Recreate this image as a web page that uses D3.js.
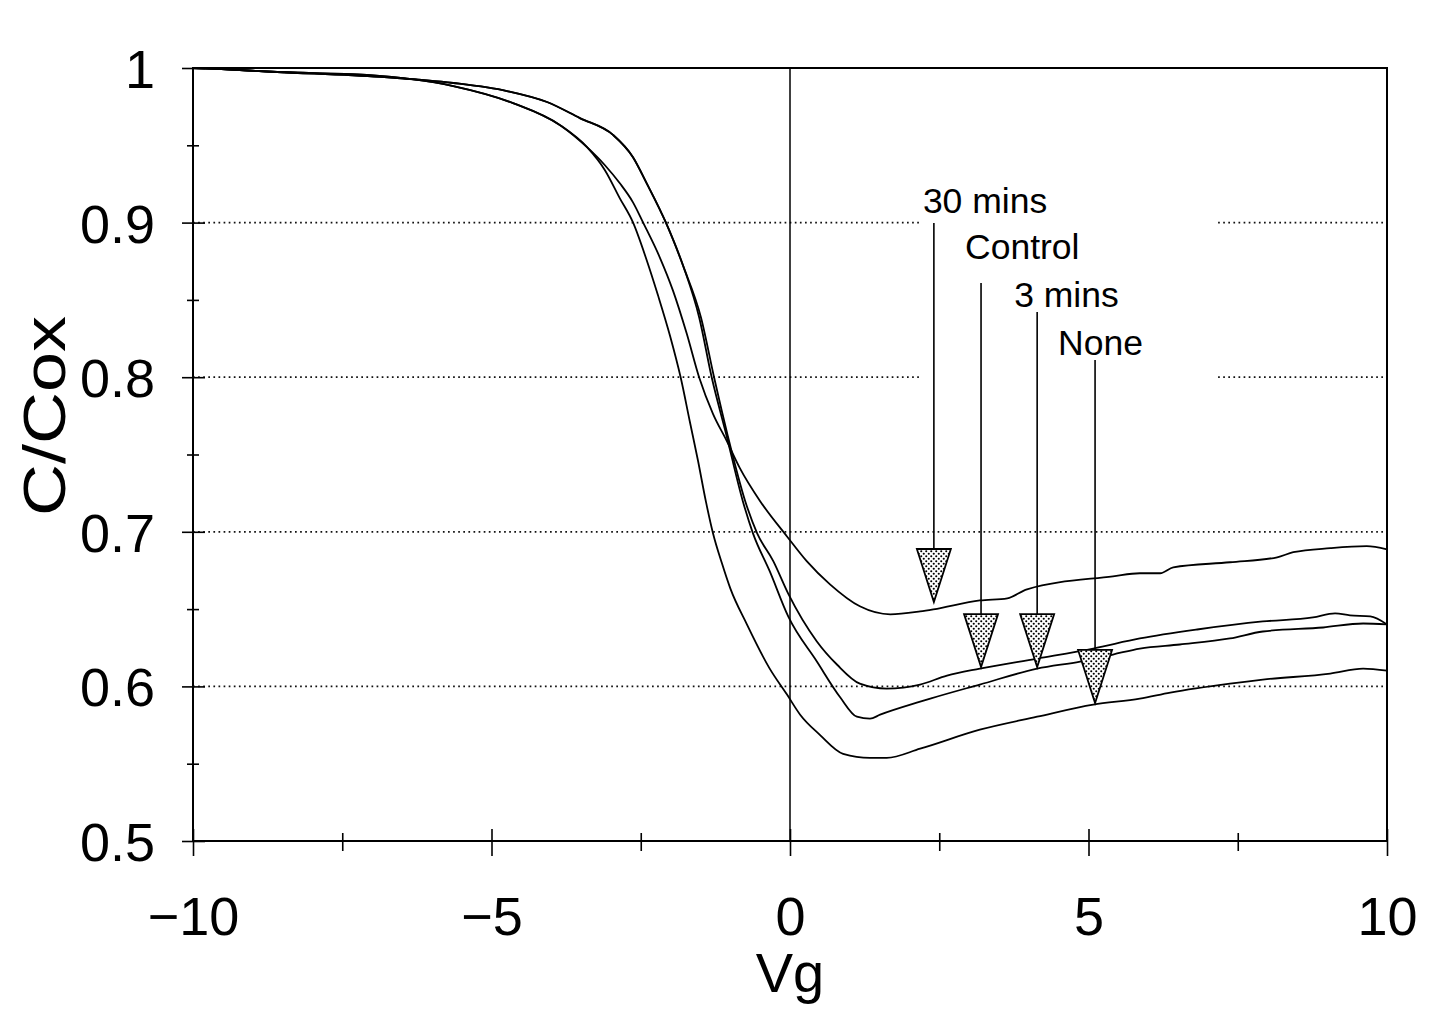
<!DOCTYPE html>
<html>
<head>
<meta charset="utf-8">
<script src="https://cdn.jsdelivr.net/npm/d3@7"></script>
<style>
  body { margin: 0; background: #fff; }
  svg { display: block; }
  text { font-family: "Liberation Sans", Arial, Helvetica, sans-serif; fill: #000; }
</style>
</head>
<body>
<svg id="chart" width="1431" height="1022"></svg>
<script>
// ---- C-V sweep data: gate voltage Vg (V) vs normalised capacitance C/Cox ----
const seriesNames = ["30 mins", "Control", "3 mins", "None"];

const cv30mins = [
  [-10,1.000],[-9.6,0.9994],[-8.59,0.9974],[-7.09,0.9955],[-5.64,0.9883],[-4.64,0.9773],
  [-3.85,0.9630],[-3.40,0.9488],[-3.10,0.9371],[-2.85,0.9254],[-2.63,0.9131],[-2.46,0.9000],
  [-2.18,0.8774],[-1.96,0.8560],[-1.73,0.8282],[-1.52,0.7996],[-1.29,0.7763],[-1.06,0.7588],
  [-0.84,0.7412],[-0.50,0.7198],[-0.05,0.6970],[0.28,0.6810],[0.67,0.6660],[1.17,0.6518],
  [1.68,0.6466],[2.18,0.6485],[2.40,0.6498],[3.18,0.6556],[3.64,0.6570],[3.97,0.6628],
  [5.41,0.6712],[5.86,0.6732],[6.20,0.6732],[6.42,0.6770],[7.37,0.6803],[8.16,0.6835],
  [8.43,0.6868],[9.05,0.6894],[9.66,0.6907],[10,0.6887]
];

const cvControl = [
  [-10,1.000],[-9.6,0.9994],[-8.59,0.9974],[-6.87,0.9942],[-5.64,0.9903],[-4.74,0.9851],
  [-4.07,0.9780],[-3.52,0.9676],[-2.96,0.9566],[-2.63,0.9423],[-2.40,0.9254],[-2.08,0.9001],
  [-1.78,0.8710],[-1.49,0.8385],[-1.27,0.7996],[-1.05,0.7633],[-0.75,0.7198],[-0.55,0.6990],
  [-0.28,0.6810],[-0.03,0.6600],[0.45,0.6291],[0.79,0.6140],[1.17,0.6018],[1.62,0.5986],
  [2.18,0.6012],[2.63,0.6070],[3.18,0.6115],[4.14,0.6180],[5.08,0.6245],[5.86,0.6310],
  [6.82,0.6368],[7.92,0.6420],[8.76,0.6446],[9.13,0.6472],[9.38,0.6460],[9.72,0.6453],
  [10,0.6401]
];

const cv3mins = [
  [-10,1.000],[-9.6,0.9994],[-8.59,0.9974],[-6.87,0.9942],[-5.64,0.9903],[-4.74,0.9851],
  [-4.07,0.9780],[-3.52,0.9676],[-2.96,0.9566],[-2.63,0.9423],[-2.40,0.9254],[-2.08,0.9001],
  [-1.78,0.8710],[-1.52,0.8385],[-1.31,0.7996],[-1.07,0.7633],[-0.79,0.7198],[-0.62,0.6990],
  [-0.34,0.6745],[-0.03,0.6453],[0.45,0.6161],[0.84,0.5930],[1.12,0.5804],[1.34,0.5791],
  [1.51,0.5817],[2.18,0.5901],[2.35,0.5921],[3.18,0.6012],[4.14,0.6115],[4.86,0.6161],
  [5.41,0.6206],[5.86,0.6245],[6.53,0.6271],[7.37,0.6310],[7.92,0.6355],[8.93,0.6381],
  [9.60,0.6407],[10,0.6401]
];

const cvNone = [
  [-10,1.000],[-9.6,0.9994],[-8.59,0.9974],[-7.09,0.9955],[-5.64,0.9883],[-4.64,0.9773],
  [-3.85,0.9630],[-3.40,0.9488],[-3.10,0.9339],[-2.85,0.9157],[-2.63,0.9001],[-2.41,0.8768],
  [-2.21,0.8528],[-2.01,0.8268],[-1.83,0.7996],[-1.68,0.7717],[-1.54,0.7458],[-1.41,0.7198],
  [-1.29,0.6991],[-1.14,0.6796],[-1.00,0.6634],[-0.72,0.6400],[-0.34,0.6115],[-0.05,0.5947],
  [0.17,0.5817],[0.50,0.5687],[0.89,0.5564],[1.34,0.5538],[1.62,0.5538],[2.18,0.5597],
  [3.18,0.5720],[4.14,0.5804],[5.08,0.5882],[5.86,0.5921],[6.37,0.5960],[7.37,0.6018],
  [7.92,0.6044],[9.05,0.6083],[9.60,0.6115],[10,0.6102]
];

const seriesData = [cv30mins, cvControl, cv3mins, cvNone];

// Axis ticks and labels
const xTickValues = [-10, -5, 0, 5, 10];
const xTickLabels = ["\u221210", "\u22125", "0", "5", "10"];
const xMinorTicks = [-7.5, -2.5, 2.5, 7.5];
const yTickValues = [0.5, 0.6, 0.7, 0.8, 0.9, 1.0];
const yTickLabels = ["0.5", "0.6", "0.7", "0.8", "0.9", "1"];
const yMinorTicks = [0.55, 0.65, 0.75, 0.85, 0.95];
const gridValues = [0.6, 0.7, 0.8, 0.9];

// Arrow annotations: the point (Vg, C/Cox) each arrow head touches
const annotLabels = ["30 mins", "Control", "3 mins", "None"];
const annotVg = [2.41, 3.20, 4.14, 5.11];
const annotC = [0.6546, 0.6125, 0.6125, 0.5893];

// ---- layout ----
const svg = d3.select("#chart");
const plot = { left: 193, right: 1387, top: 68, bottom: 841 };

const x = d3.scaleLinear().domain([-10, 10]).range([plot.left, plot.right]);
const y = d3.scaleLinear().domain([0.5, 1.0]).range([plot.bottom, plot.top]);

// stipple fill for the arrow heads
const defs = svg.append("defs");
const pat = defs.append("pattern")
  .attr("id", "stipple").attr("patternUnits", "userSpaceOnUse")
  .attr("width", 5).attr("height", 5);
pat.append("rect").attr("width", 5).attr("height", 5).attr("fill", "#fff");
pat.append("circle").attr("cx", 1.25).attr("cy", 1.25).attr("r", 1.05).attr("fill", "#000");
pat.append("circle").attr("cx", 3.75).attr("cy", 3.75).attr("r", 1.05).attr("fill", "#000");

// dotted horizontal grid
svg.append("g").selectAll("line").data(gridValues).join("line")
  .attr("x1", plot.left).attr("x2", plot.right)
  .attr("y1", d => y(d)).attr("y2", d => y(d))
  .attr("stroke", "#111").attr("stroke-width", 1.7)
  .attr("stroke-dasharray", "1.7,3.4");

// white panel behind the annotation labels
svg.append("rect")
  .attr("x", 921).attr("y", 180).attr("width", 296).attr("height", 215)
  .attr("fill", "#fff");

// vertical line at Vg = 0
svg.append("line")
  .attr("x1", x(0)).attr("x2", x(0)).attr("y1", y(1)).attr("y2", y(0.5))
  .attr("stroke", "#000").attr("stroke-width", 1.5);

// frame
svg.append("rect")
  .attr("x", plot.left).attr("y", plot.top)
  .attr("width", plot.right - plot.left).attr("height", plot.bottom - plot.top)
  .attr("fill", "none").attr("stroke", "#000").attr("stroke-width", 2);

// x axis (ticks cross the frame line)
const xAxisG = svg.append("g").attr("transform", `translate(0,${plot.bottom})`)
  .call(d3.axisBottom(x).tickValues(xTickValues)
    .tickFormat((d, i) => xTickLabels[i]).tickSize(0).tickPadding(0));
xAxisG.select(".domain").remove();
xAxisG.selectAll(".tick line").attr("y1", -12).attr("y2", 15)
  .attr("stroke", "#000").attr("stroke-width", 1.6);
xAxisG.selectAll(".tick text")
  .attr("y", 94).attr("dy", null)
  .style("font-size", "54px").attr("fill", "#000");

const xMinorG = svg.append("g").attr("transform", `translate(0,${plot.bottom})`)
  .call(d3.axisBottom(x).tickValues(xMinorTicks).tickFormat("").tickSize(0));
xMinorG.select(".domain").remove();
xMinorG.selectAll(".tick line").attr("y1", -8).attr("y2", 10)
  .attr("stroke", "#000").attr("stroke-width", 1.6);

// y axis
const yAxisG = svg.append("g").attr("transform", `translate(${plot.left},0)`)
  .call(d3.axisLeft(y).tickValues(yTickValues)
    .tickFormat((d, i) => yTickLabels[i]).tickSize(0).tickPadding(0));
yAxisG.select(".domain").remove();
yAxisG.selectAll(".tick line").attr("x1", -11).attr("x2", 12)
  .attr("stroke", "#000").attr("stroke-width", 1.6);
yAxisG.selectAll(".tick text")
  .attr("x", -38).attr("dy", "0.36em")
  .style("font-size", "54px").attr("fill", "#000");

const yMinorG = svg.append("g").attr("transform", `translate(${plot.left},0)`)
  .call(d3.axisLeft(y).tickValues(yMinorTicks).tickFormat("").tickSize(0));
yMinorG.select(".domain").remove();
yMinorG.selectAll(".tick line").attr("x1", -6).attr("x2", 6)
  .attr("stroke", "#000").attr("stroke-width", 1.6);

// axis titles
svg.append("text")
  .attr("x", x(0)).attr("y", 992)
  .attr("text-anchor", "middle").style("font-size", "56px")
  .text("Vg");
svg.append("text")
  .attr("transform", "translate(65,416) rotate(-90) scale(1.2,1)")
  .attr("text-anchor", "middle").style("font-size", "60px")
  .text("C/Cox");

// C-V curves
const line = d3.line()
  .x(d => x(d[0])).y(d => y(d[1]))
  .curve(d3.curveMonotoneX);
svg.append("g").selectAll("path").data(seriesData).join("path")
  .attr("d", line)
  .attr("fill", "none").attr("stroke", "#000")
  .attr("stroke-width", 1.8).attr("stroke-linejoin", "round");

// arrow annotations
const labelDx = [-11, -16, -23, -37];      // text start relative to the arrow shaft
const labelBaseline = [213, 259, 307, 355];
const shaftTop = [223, 283, 312, 360];
const headW = 34, headH = 53;

const ann = svg.append("g");
annotLabels.forEach((lab, i) => {
  const ax = x(annotVg[i]);
  const ay = y(annotC[i]);
  ann.append("line")
    .attr("x1", ax).attr("x2", ax)
    .attr("y1", shaftTop[i]).attr("y2", ay - headH)
    .attr("stroke", "#000").attr("stroke-width", 1.6);
  ann.append("path")
    .attr("d", `M${ax - headW / 2},${ay - headH} L${ax + headW / 2},${ay - headH} L${ax},${ay} Z`)
    .attr("fill", "url(#stipple)").attr("stroke", "#000")
    .attr("stroke-width", 1.8).attr("stroke-linejoin", "miter");
  ann.append("text")
    .attr("x", ax + labelDx[i]).attr("y", labelBaseline[i])
    .style("font-size", "35.5px")
    .text(lab);
});
</script>
</body>
</html>
